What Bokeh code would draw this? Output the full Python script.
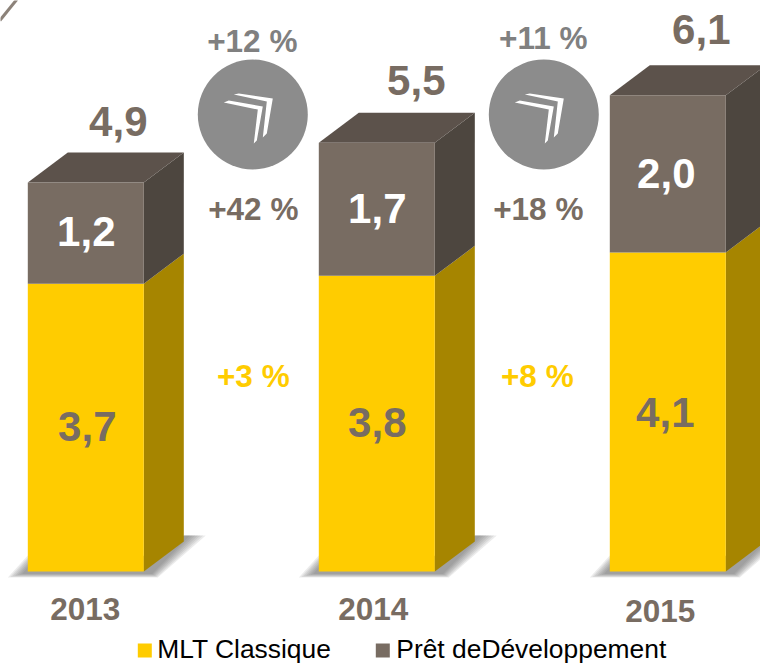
from bokeh.plotting import figure
from bokeh.models import Range1d
from bokeh.embed import file_html
from bokeh.resources import INLINE
from bokeh.core.properties import value

# ---- data
years = ["2013", "2014", "2015"]
mlt = [3.7, 3.8, 4.1]
pret = [1.3, 1.71, 2.02]
mlt_labels = ["3,7", "3,8", "4,1"]
pret_labels = ["1,2", "1,7", "2,0"]
total_labels = ["4,9", "5,5", "6,1"]
growth_total = ["+12 %", "+11 %"]
growth_pret = ["+42 %", "+18 %"]
growth_mlt = ["+3 %", "+8 %"]
series_names = ["MLT Classique", "Prêt deDéveloppement"]

# ---- layout / style
W, H = 760, 663
BASE_PX = 571
PX_PER_UNIT = 77.8
BAR_LEFT = [28, 319, 610]
BAR_W = 116
DX, DY_PX = 40, 30
DY = DY_PX / PX_PER_UNIT
YEL, YEL_SIDE = "#FFCC00", "#A68500"
BRN, BRN_TOP, BRN_SIDE = "#786C62", "#5C524B", "#4D463F"
GREY = "#808080"
FONT = value("Liberation Sans")

p = figure(width=W, height=H, output_backend="svg", toolbar_location=None,
           x_range=Range1d(0.7, W + 0.7),
           y_range=Range1d((BASE_PX - H) / PX_PER_UNIT, BASE_PX / PX_PER_UNIT),
           min_border=0, outline_line_color=None, margin=(0, 0, 0, 0))
p.extra_y_ranges["px"] = Range1d(H, 0)
p.axis.visible = False
p.grid.visible = False
p.background_fill_color = "white"
p.border_fill_color = "white"


def px_patch(xs, ys, **kw):
    p.patch(xs, ys, y_range_name="px", line_color=None, **kw)


def px_text(x, y, t, size, color, style="bold", align="center"):
    p.text([x + 0.5], [y - 1], text=[t], y_range_name="px", text_font=FONT,
           text_font_size=f"{size}px", text_font_style=style,
           text_color=color, text_align=align, text_baseline="middle")


# corner stroke
p.line([0, 17], [20, -1], y_range_name="px", line_color="#786C62", line_width=3, line_alpha=.85)

# bars
for i, left in enumerate(BAR_LEFT):
    r = left + BAR_W
    m, t = mlt[i], mlt[i] + pret[i]
    # soft base shadow
    for s in (1.0, .88, .76, .64, .52, .4, .28):
        px_patch([left - 20 * s, left, r + 10, r + DX, r + DX + 22 * s, r + 6 + 8 * s],
                 [BASE_PX + 1 + 5 * s, BASE_PX - 16 * s, BASE_PX - 16, BASE_PX - 36, BASE_PX - 36, BASE_PX + 1 + 5 * s],
                 fill_color="#606060", fill_alpha=.12)
    p.patch([r, r + DX, r + DX, r], [0, DY, m + DY, m], fill_color=YEL_SIDE, line_color=None)
    p.patch([r, r + DX, r + DX, r], [m, m + DY, t + DY, t], fill_color=BRN_SIDE, line_color=None)
    p.patch([left, left + DX, r + DX, r], [t, t + DY, t + DY, t], fill_color=BRN_TOP, line_color=None)
    p.vbar(x=[left + BAR_W / 2], bottom=[0], top=[m], width=BAR_W, fill_color=YEL, line_color=None)
    p.vbar(x=[left + BAR_W / 2], bottom=[m], top=[t], width=BAR_W, fill_color=BRN, line_color=None)

# growth badges
for cx, cy in ((253, 114), (544, 114)):
    p.circle([cx], [cy], radius=55, y_range_name="px", fill_color="#8C8C8C", line_color=None)
    outer = [(-19, -20), (-14, -21), (20, -16), (14, 19), (10, 23), (14, -13)]
    inner = [(-29, -12), (-24, -14), (10, -8), (4, 26), (1, 29), (5, -5)]
    for shape in (outer, inner):
        px_patch([cx + a for a, b in shape], [cy + b for a, b in shape], fill_color="white")

# labels
for x, y, t in zip((118, 416, 701), (122, 81, 30), total_labels):
    px_text(x, y, t, 42, BRN)
for x, y, t in zip((86, 377, 666), (232, 209, 174), pret_labels):
    px_text(x, y, t, 42, "white")
for x, y, t in zip((87, 377, 665), (427, 423, 413), mlt_labels):
    px_text(x, y, t, 42, BRN)
for x, y, t in zip((252, 543), (41, 38), growth_total):
    px_text(x, y, t, 31.5, GREY)
for x, y, t in zip((253, 538), (209, 209), growth_pret):
    px_text(x, y, t, 31.5, BRN)
for x, y, t in zip((253, 537), (376, 376), growth_mlt):
    px_text(x, y, t, 31.5, YEL)
for x, y, t in zip((85, 373, 660), (609, 609, 611), years):
    px_text(x, y, t, 31.5, BRN)

# legend
for x0, c, tx, t in zip((138, 376), (YEL, BRN), (157, 396), series_names):
    px_patch([x0, x0 + 14, x0 + 14, x0], [643, 643, 657, 657], fill_color=c)
    px_text(tx, 649, t, 26.4, "black", style="normal", align="left")

open("out.html", "w").write(file_html(p, INLINE))
